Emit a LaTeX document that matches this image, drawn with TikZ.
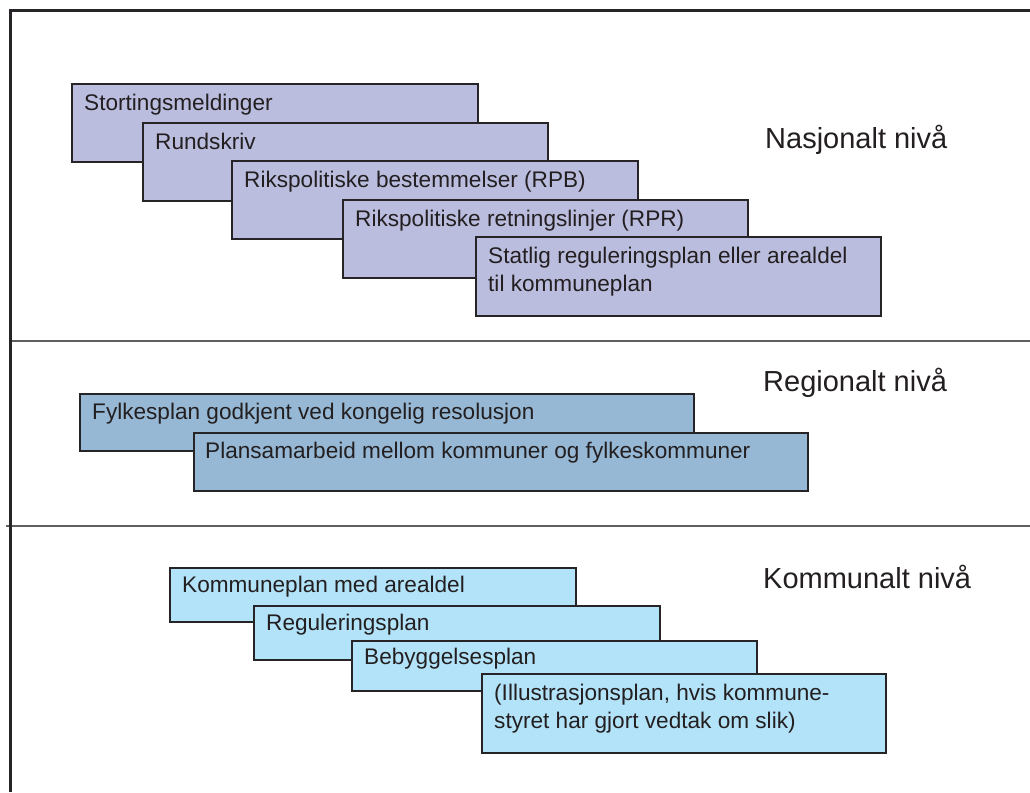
\documentclass[tikz,border=0pt]{standalone}
\usepackage{fontspec}
\setmainfont{Liberation Sans}
\usetikzlibrary{calc}
\definecolor{natc}{RGB}{187,189,223}
\definecolor{regc}{RGB}{150,184,213}
\definecolor{komc}{RGB}{179,227,249}
\definecolor{edgec}{RGB}{38,36,38}
\definecolor{txtc}{RGB}{35,31,32}
\definecolor{divc}{RGB}{95,95,95}
\tikzset{
  planbox/.style={draw=edgec, line width=1.8pt, rectangle, anchor=north west, inner sep=0pt, minimum width=406pt},
  lbl/.style={anchor=base west, inner sep=0pt, text=txtc, font=\fontsize{22.6}{28.5}\selectfont, align=left},
  lvl/.style={anchor=base west, inner sep=0pt, text=txtc, font=\fontsize{29}{34}\selectfont}
}
\begin{document}
\begin{tikzpicture}[x=1pt,y=-1pt]
\useasboundingbox (0,0) rectangle (1030,792);
\fill[white] (0,0) rectangle (1030,792);
% frame and dividers
\draw[divc, line width=2pt] (10,341) -- (1030,341);
\draw[divc, line width=2pt] (6,526) -- (1030,526);
\draw[edgec, line width=3pt] (10,792) -- (10,11) -- (1030,11);
% level titles
\node[lvl] (nas) at (765,148) {Nasjonalt nivå};
\node[lvl] (reg) at (763,391) {Regionalt nivå};
\node[lvl] (kom) at (763,588) {Kommunalt nivå};
% national
\node[planbox, fill=natc, minimum height=78pt] (n1) at (71,83) {};
\node[lbl] (tn1) at ($(n1.north west)+(13,27)$) {Stortingsmeldinger};
\node[planbox, fill=natc, minimum height=78pt, minimum width=405pt] (n2) at (142,122) {};
\node[lbl] (tn2) at ($(n2.north west)+(13,27)$) {Rundskriv};
\node[planbox, fill=natc, minimum height=78pt] (n3) at (231,160) {};
\node[lbl] (tn3) at ($(n3.north west)+(13,27)$) {Rikspolitiske bestemmelser (RPB)};
\node[planbox, fill=natc, minimum height=78pt, minimum width=405pt] (n4) at (342,199) {};
\node[lbl] (tn4) at ($(n4.north west)+(13,27)$) {Rikspolitiske retningslinjer (RPR)};
\node[planbox, fill=natc, minimum height=79pt, minimum width=405pt] (n5) at (475,236) {};
\node[lbl] (tn5) at ($(n5.north west)+(13,55.5)$) {Statlig reguleringsplan eller arealdel\\til kommuneplan};
% regional
\node[planbox, fill=regc, minimum height=57pt, minimum width=614pt] (r1) at (79,393) {};
\node[lbl] (tr1) at ($(r1.north west)+(13,26)$) {Fylkesplan godkjent ved kongelig resolusjon};
\node[planbox, fill=regc, minimum height=58pt, minimum width=614pt] (r2) at (193,432) {};
\node[lbl] (tr2) at ($(r2.north west)+(12,26)$) {Plansamarbeid mellom kommuner og fylkeskommuner};
% municipal
\node[planbox, fill=komc, minimum height=54pt] (k1) at (169,567) {};
\node[lbl] (tk1) at ($(k1.north west)+(13,25)$) {Kommuneplan med arealdel};
\node[planbox, fill=komc, minimum height=54pt] (k2) at (253,605) {};
\node[lbl] (tk2) at ($(k2.north west)+(13,25)$) {Reguleringsplan};
\node[planbox, fill=komc, minimum height=50pt, minimum width=405pt] (k3) at (351,640) {};
\node[lbl] (tk3) at ($(k3.north west)+(13,24)$) {Bebyggelsesplan};
\node[planbox, fill=komc, minimum height=79pt, minimum width=404pt] (k4) at (481,673) {};
\node[lbl] (tk4) at ($(k4.north west)+(13,55.5)$) {(Illustrasjonsplan, hvis kommune-\\styret har gjort vedtak om slik)};
\end{tikzpicture}
\end{document}
